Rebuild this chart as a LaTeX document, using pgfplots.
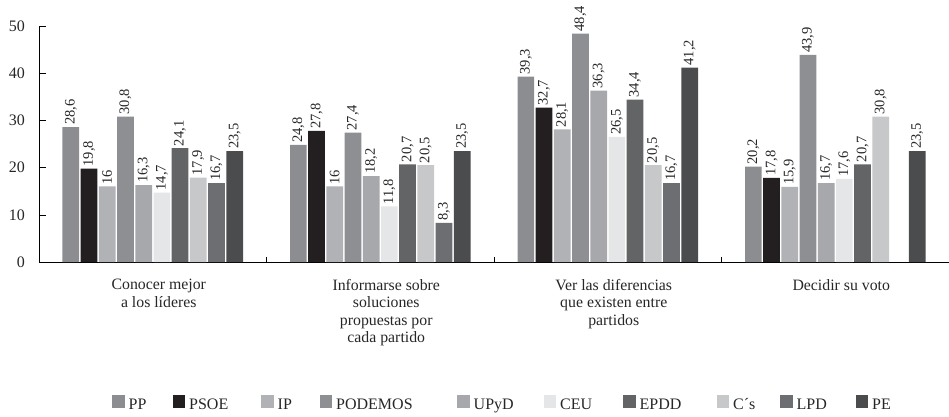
\documentclass[border=0pt]{standalone}
\usepackage{fontspec}
\setmainfont{Liberation Serif}
\usepackage{pgfplots}
\pgfplotsset{compat=1.18}
\definecolor{cPP}{HTML}{8C8D90}
\definecolor{cPSOE}{HTML}{231F20}
\definecolor{cIP}{HTML}{B1B2B5}
\definecolor{cPOD}{HTML}{8E8F92}
\definecolor{cUPYD}{HTML}{A7A8AB}
\definecolor{cCEU}{HTML}{E5E6E8}
\definecolor{cEPDD}{HTML}{636466}
\definecolor{cCS}{HTML}{C7C8CA}
\definecolor{cLPD}{HTML}{6D6E71}
\definecolor{cPE}{HTML}{4B4C4E}
\begin{document}
\begin{tikzpicture}
\path[use as bounding box] (-39pt,-155pt) rectangle (910pt,262pt);
\begin{axis}[
  at={(0pt,0pt)}, anchor=south west,
  scale only axis, width=910pt, height=236pt,
  ybar=1.5pt, bar width=16.7pt,
  xmin=-0.5, xmax=3.5, ymin=0, ymax=50,
  enlarge x limits=false, enlarge y limits=false,
  axis lines*=left,
  axis line style={line width=0.8pt, black},
  tick align=inside,
  major tick length=7pt, minor tick length=5pt,
  ytick={0,10,20,30,40,50},
  xtick={0,1,2,3},
  minor xtick={0.5,1.5,2.5},
  major x tick style={draw=none},
  tick style={black, line width=0.6pt},
  xticklabels={{Conocer mejor\\a los líderes},{Informarse sobre\\soluciones\\propuestas por\\cada partido},{Ver las diferencias\\que existen entre\\partidos},{Decidir su voto}},
  xticklabel style={align=center, inner sep=0pt, yshift=-17pt, xshift=6pt, font=\fontsize{15.8}{17.5}\selectfont, text=black!85},
  yticklabel style={inner sep=0pt, xshift=-14pt, font=\fontsize{16}{16}\selectfont, text=black!85},
  /pgf/number format/assume math mode=true,
  /pgf/number format/use comma,
  nodes near coords,
  every node near coord/.append style={rotate=90, anchor=west, inner sep=2pt, font=\fontsize{14.5}{14.5}\selectfont, text=black!85},
  clip=false,
  legend columns=10,
  legend image code/.code={\fill[#1] (0pt,-3pt) rectangle (12.5pt,9.5pt);},
  legend style={draw=none, fill=none, inner sep=0pt, column sep=0pt, at={(0,0)}, anchor=west, xshift=73pt, yshift=-141pt, font=\fontsize{16}{16}\selectfont, text=black!85, nodes={inner sep=0pt}},
]
\addplot[draw=none, fill=cPP] coordinates {(0,28.6) (1,24.8) (2,39.3) (3,20.2)};
\addlegendentry{\makebox[48pt][l]{\hspace{4pt}PP}}
\addplot[draw=none, fill=cPSOE] coordinates {(0,19.8) (1,27.8) (2,32.7) (3,17.8)};
\addlegendentry{\makebox[76pt][l]{\hspace{4pt}PSOE}}
\addplot[draw=none, fill=cIP] coordinates {(0,16) (1,16) (2,28.1) (3,15.9)};
\addlegendentry{\makebox[46pt][l]{\hspace{4pt}IP}}
\addplot[draw=none, fill=cPOD] coordinates {(0,30.8) (1,27.4) (2,48.4) (3,43.9)};
\addlegendentry{\makebox[125pt][l]{\hspace{4pt}PODEMOS}}
\addplot[draw=none, fill=cUPYD] coordinates {(0,16.3) (1,18.2) (2,36.3) (3,16.7)};
\addlegendentry{\makebox[74pt][l]{\hspace{4pt}UPyD}}
\addplot[draw=none, fill=cCEU] coordinates {(0,14.7) (1,11.8) (2,26.5) (3,17.6)};
\addlegendentry{\makebox[67pt][l]{\hspace{4pt}CEU}}
\addplot[draw=none, fill=cEPDD] coordinates {(0,24.1) (1,20.7) (2,34.4) (3,20.7)};
\addlegendentry{\makebox[81pt][l]{\hspace{4pt}EPDD}}
\addplot[draw=none, fill=cCS] coordinates {(0,17.9) (1,20.5) (2,20.5) (3,30.8)};
\addlegendentry{\makebox[51pt][l]{\hspace{4pt}C´s}}
\addplot[draw=none, fill=cLPD] coordinates {(0,16.7) (1,8.3) (2,16.7)};
\addlegendentry{\makebox[63pt][l]{\hspace{4pt}LPD}}
\addplot[draw=none, fill=cPE] coordinates {(0,23.5) (1,23.5) (2,41.2) (3,23.5)};
\addlegendentry{\hspace{4pt}PE}
\end{axis}
\end{tikzpicture}
\end{document}
